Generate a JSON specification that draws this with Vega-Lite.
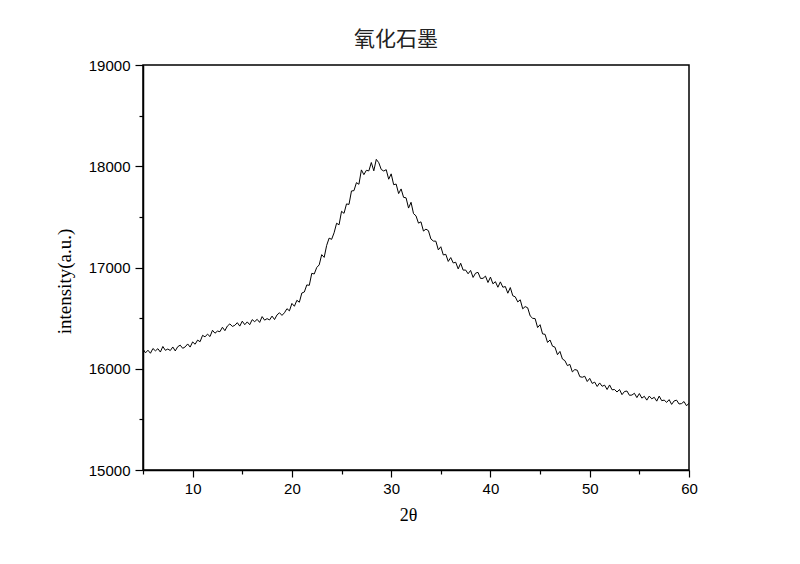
{
  "$schema": "https://vega.github.io/schema/vega-lite/v6.json",
  "autosize": "none",
  "padding": {"left": 143, "top": 65, "right": 111, "bottom": 94},
  "width": 546,
  "height": 405,
  "background": "white",
  "title": {"text": "氧化石墨", "font": "Noto Sans CJK SC", "fontSize": 21, "fontWeight": "normal", "color": "#222", "offset": 8, "dx": -20},
  "config": {"view": {"stroke": "#000", "strokeWidth": 1.5}},
  "data": {"values": [
    {"x":5,"y":16195},{"x":5.25,"y":16157},{"x":5.5,"y":16183},{"x":5.75,"y":16153},
    {"x":6,"y":16200},{"x":6.25,"y":16177},{"x":6.5,"y":16198},{"x":6.75,"y":16165},
    {"x":7,"y":16220},{"x":7.25,"y":16182},{"x":7.5,"y":16195},{"x":7.75,"y":16180},
    {"x":8,"y":16215},{"x":8.25,"y":16176},{"x":8.5,"y":16218},{"x":8.75,"y":16233},
    {"x":9,"y":16202},{"x":9.25,"y":16216},{"x":9.5,"y":16245},{"x":9.75,"y":16214},
    {"x":10,"y":16265},{"x":10.25,"y":16242},{"x":10.5,"y":16283},{"x":10.75,"y":16267},
    {"x":11,"y":16330},{"x":11.25,"y":16315},{"x":11.5,"y":16342},{"x":11.75,"y":16318},
    {"x":12,"y":16380},{"x":12.25,"y":16351},{"x":12.5,"y":16372},{"x":12.75,"y":16366},
    {"x":13,"y":16410},{"x":13.25,"y":16376},{"x":13.5,"y":16422},{"x":13.75,"y":16443},
    {"x":14,"y":16418},{"x":14.25,"y":16429},{"x":14.5,"y":16455},{"x":14.75,"y":16421},
    {"x":15,"y":16470},{"x":15.25,"y":16435},{"x":15.5,"y":16463},{"x":15.75,"y":16435},
    {"x":16,"y":16485},{"x":16.25,"y":16465},{"x":16.5,"y":16488},{"x":16.75,"y":16458},
    {"x":17,"y":16515},{"x":17.25,"y":16480},{"x":17.5,"y":16495},{"x":17.75,"y":16482},
    {"x":18,"y":16520},{"x":18.25,"y":16486},{"x":18.5,"y":16532},{"x":18.75,"y":16553},
    {"x":19,"y":16527},{"x":19.25,"y":16553},{"x":19.5,"y":16593},{"x":19.75,"y":16572},
    {"x":20,"y":16645},{"x":20.25,"y":16617},{"x":20.5,"y":16676},{"x":20.75,"y":16657},
    {"x":21,"y":16748},{"x":21.25,"y":16758},{"x":21.5,"y":16828},{"x":21.75,"y":16824},
    {"x":22,"y":16942},{"x":22.25,"y":16936},{"x":22.5,"y":17000},{"x":22.75,"y":17026},
    {"x":23,"y":17127},{"x":23.25,"y":17100},{"x":23.5,"y":17218},{"x":23.75,"y":17290},
    {"x":24,"y":17278},{"x":24.25,"y":17343},{"x":24.5,"y":17437},{"x":24.75,"y":17422},
    {"x":25,"y":17555},{"x":25.25,"y":17535},{"x":25.5,"y":17628},{"x":25.75,"y":17623},
    {"x":26,"y":17756},{"x":26.25,"y":17759},{"x":26.5,"y":17838},{"x":26.75,"y":17822},
    {"x":27,"y":17964},{"x":27.25,"y":17917},{"x":27.5,"y":17960},{"x":27.75,"y":17954},
    {"x":28,"y":18037},{"x":28.25,"y":17955},{"x":28.5,"y":18068},{"x":28.75,"y":18035},
    {"x":29,"y":17968},{"x":29.25,"y":17953},{"x":29.5,"y":17966},{"x":29.75,"y":17872},
    {"x":30,"y":17925},{"x":30.25,"y":17818},{"x":30.5,"y":17824},{"x":30.75,"y":17730},
    {"x":31,"y":17776},{"x":31.25,"y":17693},{"x":31.5,"y":17688},{"x":31.75,"y":17587},
    {"x":32,"y":17644},{"x":32.25,"y":17532},{"x":32.5,"y":17510},{"x":32.75,"y":17438},
    {"x":33,"y":17451},{"x":33.25,"y":17360},{"x":33.5,"y":17379},{"x":33.75,"y":17364},
    {"x":34,"y":17282},{"x":34.25,"y":17261},{"x":34.5,"y":17260},{"x":34.75,"y":17174},
    {"x":35,"y":17205},{"x":35.25,"y":17124},{"x":35.5,"y":17130},{"x":35.75,"y":17060},
    {"x":36,"y":17098},{"x":36.25,"y":17045},{"x":36.5,"y":17052},{"x":36.75,"y":16986},
    {"x":37,"y":17042},{"x":37.25,"y":16974},{"x":37.5,"y":16975},{"x":37.75,"y":16938},
    {"x":38,"y":16971},{"x":38.25,"y":16902},{"x":38.5,"y":16944},{"x":38.75,"y":16952},
    {"x":39,"y":16892},{"x":39.25,"y":16893},{"x":39.5,"y":16915},{"x":39.75,"y":16852},
    {"x":40,"y":16905},{"x":40.25,"y":16839},{"x":40.5,"y":16860},{"x":40.75,"y":16805},
    {"x":41,"y":16858},{"x":41.25,"y":16805},{"x":41.5,"y":16812},{"x":41.75,"y":16746},
    {"x":42,"y":16802},{"x":42.25,"y":16721},{"x":42.5,"y":16710},{"x":42.75,"y":16660},
    {"x":43,"y":16681},{"x":43.25,"y":16592},{"x":43.5,"y":16614},{"x":43.75,"y":16602},
    {"x":44,"y":16522},{"x":44.25,"y":16498},{"x":44.5,"y":16495},{"x":44.75,"y":16407},
    {"x":45,"y":16435},{"x":45.25,"y":16344},{"x":45.5,"y":16340},{"x":45.75,"y":16260},
    {"x":46,"y":16284},{"x":46.25,"y":16223},{"x":46.5,"y":16213},{"x":46.75,"y":16139},
    {"x":47,"y":16171},{"x":47.25,"y":16096},{"x":47.5,"y":16080},{"x":47.75,"y":16031},
    {"x":48,"y":16043},{"x":48.25,"y":15969},{"x":48.5,"y":15992},{"x":48.75,"y":15985},
    {"x":49,"y":15922},{"x":49.25,"y":15916},{"x":49.5,"y":15926},{"x":49.75,"y":15874},
    {"x":50,"y":15905},{"x":50.25,"y":15855},{"x":50.5,"y":15868},{"x":50.75,"y":15825},
    {"x":51,"y":15860},{"x":51.25,"y":15827},{"x":51.5,"y":15838},{"x":51.75,"y":15795},
    {"x":52,"y":15840},{"x":52.25,"y":15792},{"x":52.5,"y":15795},{"x":52.75,"y":15770},
    {"x":53,"y":15795},{"x":53.25,"y":15744},{"x":53.5,"y":15775},{"x":53.75,"y":15780},
    {"x":54,"y":15738},{"x":54.25,"y":15740},{"x":54.5,"y":15758},{"x":54.75,"y":15715},
    {"x":55,"y":15755},{"x":55.25,"y":15710},{"x":55.5,"y":15728},{"x":55.75,"y":15690},
    {"x":56,"y":15730},{"x":56.25,"y":15703},{"x":56.5,"y":15718},{"x":56.75,"y":15680},
    {"x":57,"y":15730},{"x":57.25,"y":15685},{"x":57.5,"y":15690},{"x":57.75,"y":15668},
    {"x":58,"y":15695},{"x":58.25,"y":15648},{"x":58.5,"y":15682},{"x":58.75,"y":15690},
    {"x":59,"y":15652},{"x":59.25,"y":15656},{"x":59.5,"y":15676},{"x":59.75,"y":15634},
    {"x":60,"y":15660}
  ]},
  "mark": {"type": "line", "color": "#000", "strokeWidth": 1, "clip": true},
  "encoding": {
    "x": {
      "field": "x", "type": "quantitative",
      "scale": {"domain": [5, 60], "nice": false, "zero": false},
      "axis": {
        "title": "2θ",
        "titleFont": "Liberation Serif, DejaVu Serif", "titleFontSize": 18, "titleFontWeight": "normal", "titleColor": "#000",
        "titlePadding": 10, "titleX": 265,
        "values": [5, 10, 15, 20, 25, 30, 35, 40, 45, 50, 55, 60],
        "labelExpr": "datum.value % 10 === 0 ? datum.label : ''",
        "labelFont": "Liberation Sans", "labelFontSize": 15, "labelColor": "#000", "labelPadding": 4,
        "tickSize": {"condition": {"test": "datum.value % 10 === 0", "value": 7}, "value": 4},
        "tickColor": "#000", "tickWidth": 1.2,
        "domainColor": "#000", "domainWidth": 1.5,
        "grid": false, "labelOverlap": false, "labelFlush": false
      }
    },
    "y": {
      "field": "y", "type": "quantitative",
      "scale": {"domain": [15000, 19000], "nice": false, "zero": false},
      "axis": {
        "title": "intensity(a.u.)",
        "titleFont": "Liberation Serif", "titleFontSize": 19, "titleFontWeight": "normal", "titleColor": "#000",
        "titlePadding": 14, "titleY": 216,
        "values": [15000, 15500, 16000, 16500, 17000, 17500, 18000, 18500, 19000],
        "labelExpr": "datum.value % 1000 === 0 ? format(datum.value, 'd') : ''",
        "labelFont": "Liberation Sans", "labelFontSize": 15, "labelColor": "#000", "labelPadding": 5,
        "tickSize": {"condition": {"test": "datum.value % 1000 === 0", "value": 8}, "value": 4},
        "tickColor": "#000", "tickWidth": 1.2,
        "domainColor": "#000", "domainWidth": 1.5,
        "grid": false, "labelOverlap": false, "labelFlush": false
      }
    }
  }
}
